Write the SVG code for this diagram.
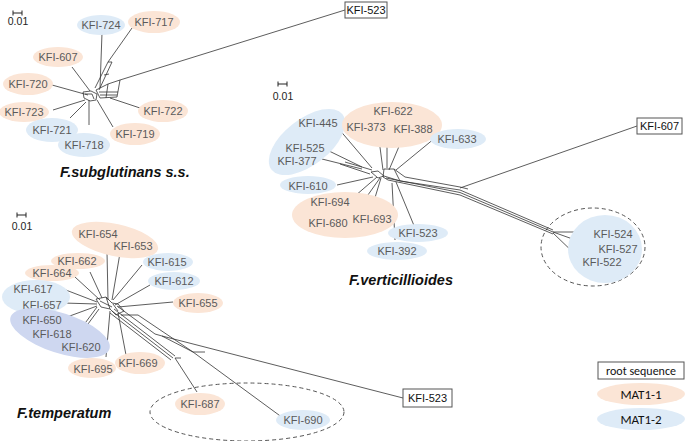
<svg xmlns="http://www.w3.org/2000/svg" width="685" height="441" viewBox="0 0 685 441">
<style>
.m1{fill:#FBE5D6}
.m2{fill:#DEEBF7}
.m3{fill:#CED7F0}
.lbl{font-family:"Liberation Sans",Arial,sans-serif;font-size:11px;fill:#5a5a5a;text-anchor:middle;dominant-baseline:central}
.root{font-family:"Liberation Sans",Arial,sans-serif;font-size:11px;fill:#111;text-anchor:middle;dominant-baseline:central}
.box{fill:#fff;stroke:#555;stroke-width:1}
.e{stroke:#333;stroke-width:0.8;fill:none}
.sb{stroke:#222;stroke-width:1;fill:none}
.sbt{font-family:"Liberation Sans",Arial,sans-serif;font-size:10.5px;fill:#222;text-anchor:middle}
.ttl{font-family:"Liberation Sans",Arial,sans-serif;font-size:14.5px;font-weight:bold;font-style:italic;fill:#111}
.dash{fill:none;stroke:#555;stroke-width:1;stroke-dasharray:4 3}
.leg{font-family:Carlito,"Liberation Sans",Arial,sans-serif;fill:#111;text-anchor:middle;dominant-baseline:central}
</style>
<rect width="685" height="441" fill="#fff"/>

<!-- scale bars -->
<g id="scale-tl"><path class="sb" d="M13,13 H22 M13,10.5 V15.5 M22,10.5 V15.5"/><text class="sbt" x="18" y="25">0.01</text></g>
<g id="scale-tr"><path class="sb" d="M278,84 H287 M278,81.5 V86.5 M287,81.5 V86.5"/><text class="sbt" x="283" y="100">0.01</text></g>
<g id="scale-bl"><path class="sb" d="M17,215 H26 M17,212.5 V217.5 M26,212.5 V217.5"/><text class="sbt" x="22" y="230">0.01</text></g>

<!-- dashed group outlines -->
<g id="dashed-tr"><ellipse class="dash" cx="593" cy="247" rx="52" ry="39"/></g>
<g id="dashed-bl"><ellipse class="dash" cx="247" cy="412" rx="97" ry="29"/></g>

<!-- connectors -->
<g id="connectors">
 <!-- top-left network -->
 <path class="e" d="M120,80 L345,10"/>
 <path class="e" d="M96,90 L108,84 L120,80 L117,97 L100,98 Z M99,92 H118 M100,95 H117 M108,84 L106,98"/>
 <path class="e" d="M95,88 L108,62 L132,28 M99,90 L112,62 L108,62 M104,75 L109,74"/>
 <path class="e" d="M102,33 L100,88"/>
 <path class="e" d="M72,67 L90,91"/>
 <path class="e" d="M52,85 L88,95"/>
 <path class="e" d="M53,110 L85,100"/>
 <path class="e" d="M70,118 L86,102"/>
 <path class="e" d="M89,125 L89,100"/>
 <path class="e" d="M113,127 L97,100"/>
 <path class="e" d="M140,108 L110,98"/>
 <path class="e" d="M83,92 L91,91 L97,94 L96,100 L90,101 L84,98 Z M85,94 L92,94 L94,99"/>

 <!-- top-right network -->
 <path class="e" d="M460,188 L637,126"/>
 <path class="e" d="M384,169 L394,169 L405,177 L460,187 L468,189"/>
 <path class="e" d="M384,176 L400,181 L460,190 L553,230 M386,178 L460,192.5 L553,232 M388,180 L460,195 L553,234 M384,169 L383,177 L388,180 M394,169 L400,181"/>
 <path class="e" d="M553,232 L592,232 M553,232 L595,247 M553,233 L578,257"/>
 <path class="e" d="M338,128 L372,168"/>
 <path class="e" d="M327,150 L362,167"/>
 <path class="e" d="M322,159 L362,169 M340,164 L370,174 M345,162 L372,170"/>
 <path class="e" d="M378,132 L383,170"/>
 <path class="e" d="M387,117 L387,168"/>
 <path class="e" d="M403,137 L389,170"/>
 <path class="e" d="M435,138 L396,170"/>
 <path class="e" d="M337,185 L373,177"/>
 <path class="e" d="M348,202 L377,177"/>
 <path class="e" d="M348,223 L380,178"/>
 <path class="e" d="M370,214 L381,178"/>
 <path class="e" d="M395,240 L392,183"/>
 <path class="e" d="M415,228 L396,182"/>
 <path class="e" d="M371,172 L378,171 L384,176 L378,178 Z"/>

 <!-- bottom-left network -->
 <path class="e" d="M117,306 L155,334 L162,336 L403,398"/>
 <path class="e" d="M121,315 H138 L193,352 L283,418 M193,352 H205 M162,336 L193,352"/>
 <path class="e" d="M110,313 L171,360 M112,311 L173,358 M114,309 L175,356 M175,358 L197,392 M175,358 H181"/>
 <path class="e" d="M107,252 L108,300"/>
 <path class="e" d="M120,253 L112,300"/>
 <path class="e" d="M90,272 L102,298"/>
 <path class="e" d="M75,277 L100,300"/>
 <path class="e" d="M142,265 L113,300"/>
 <path class="e" d="M150,285 L115,305"/>
 <path class="e" d="M173,302 L118,307"/>
 <path class="e" d="M58,287 L97,302"/>
 <path class="e" d="M63,303 L97,304"/>
 <path class="e" d="M67,317 L97,306"/>
 <path class="e" d="M80,330 L97,307"/>
 <path class="e" d="M88,324 L99,309"/>
 <path class="e" d="M106,357 L110,311"/>
 <path class="e" d="M126,355 L118,313"/>
 <path class="e" d="M96,299 L106,297 L112,303 L118,304 L124,311 L116,315 L110,309 L101,307 Z M100,301 L112,307 M106,297 L110,309 M113,304 L118,311"/>
</g>

<!-- top-left nodes -->
<g id="n-724"><ellipse class="m2" cx="101" cy="25" rx="24" ry="10"/><text class="lbl" x="101" y="25">KFI-724</text></g>
<g id="n-717"><ellipse class="m1" cx="154" cy="22" rx="26" ry="11"/><text class="lbl" x="154" y="22">KFI-717</text></g>
<g id="n-607a"><ellipse class="m1" cx="58" cy="57" rx="25" ry="10"/><text class="lbl" x="58" y="57">KFI-607</text></g>
<g id="n-720"><ellipse class="m1" cx="28" cy="84" rx="25" ry="11"/><text class="lbl" x="28" y="84">KFI-720</text></g>
<g id="n-723"><ellipse class="m1" cx="24" cy="112" rx="25" ry="10"/><text class="lbl" x="24" y="112">KFI-723</text></g>
<g id="n-721"><ellipse class="m2" cx="52" cy="130" rx="26" ry="12"/><text class="lbl" x="52" y="130">KFI-721</text></g>
<g id="n-718"><ellipse class="m2" cx="84" cy="145" rx="26" ry="12"/><text class="lbl" x="84" y="145">KFI-718</text></g>
<g id="n-719"><ellipse class="m1" cx="135" cy="134" rx="25" ry="11"/><text class="lbl" x="135" y="134">KFI-719</text></g>
<g id="n-722"><ellipse class="m1" cx="163" cy="111" rx="25" ry="11"/><text class="lbl" x="163" y="111">KFI-722</text></g>
<g id="root-tl"><rect class="box" x="345" y="2" width="42" height="16"/><text class="root" x="366" y="10">KFI-523</text></g>
<g id="title-tl"><text class="ttl" x="60" y="177">F.subglutinans s.s.</text></g>

<!-- top-right nodes -->
<g id="g-445"><ellipse class="m2" cx="307" cy="142" rx="45" ry="23" transform="rotate(-38 307 142)"/>
 <text class="lbl" x="318" y="123">KFI-445</text><text class="lbl" x="305" y="148">KFI-525</text><text class="lbl" x="297" y="161">KFI-377</text></g>
<g id="g-622"><ellipse class="m1" cx="392" cy="125" rx="50" ry="23"/>
 <text class="lbl" x="393" y="111">KFI-622</text><text class="lbl" x="366" y="127">KFI-373</text><text class="lbl" x="413" y="129">KFI-388</text></g>
<g id="n-633"><ellipse class="m2" cx="458" cy="139" rx="28" ry="10"/><text class="lbl" x="457" y="139">KFI-633</text></g>
<g id="n-610"><ellipse class="m2" cx="308" cy="185" rx="28" ry="9"/><text class="lbl" x="308" y="186">KFI-610</text></g>
<g id="g-694"><ellipse class="m1" cx="345" cy="215" rx="53" ry="23"/>
 <text class="lbl" x="330" y="202">KFI-694</text><text class="lbl" x="328" y="223">KFI-680</text><text class="lbl" x="372" y="219">KFI-693</text></g>
<g id="n-523b"><ellipse class="m2" cx="418" cy="233" rx="30" ry="9"/><text class="lbl" x="418" y="233">KFI-523</text></g>
<g id="n-392"><ellipse class="m2" cx="397" cy="251" rx="30" ry="9"/><text class="lbl" x="397" y="251">KFI-392</text></g>
<g id="g-524"><ellipse class="m2" cx="605" cy="249" rx="37" ry="34"/>
 <text class="lbl" x="613" y="234">KFI-524</text><text class="lbl" x="618" y="249">KFI-527</text><text class="lbl" x="602" y="262">KFI-522</text></g>
<g id="root-tr"><rect class="box" x="637" y="118" width="45" height="16"/><text class="root" x="659.5" y="126">KFI-607</text></g>
<g id="title-tr"><text class="ttl" x="349" y="285">F.verticillioides</text></g>

<!-- bottom-left nodes -->
<g id="g-654"><ellipse class="m1" cx="115" cy="240" rx="44" ry="16" transform="rotate(12 115 240)"/>
 <text class="lbl" x="98" y="234">KFI-654</text><text class="lbl" x="133" y="246">KFI-653</text></g>
<g id="n-662"><ellipse class="m1" cx="78" cy="261" rx="27" ry="8"/><text class="lbl" x="77" y="261">KFI-662</text></g>
<g id="n-664"><ellipse class="m1" cx="52" cy="273" rx="27" ry="8"/><text class="lbl" x="52" y="273">KFI-664</text></g>
<g id="n-615"><ellipse class="m2" cx="168" cy="262" rx="25" ry="9"/><text class="lbl" x="167" y="262">KFI-615</text></g>
<g id="n-612"><ellipse class="m2" cx="174" cy="281" rx="26" ry="9"/><text class="lbl" x="174" y="281">KFI-612</text></g>
<g id="n-655"><ellipse class="m1" cx="198" cy="303" rx="25" ry="10"/><text class="lbl" x="198" y="303">KFI-655</text></g>
<g id="g-617"><ellipse class="m2" cx="36" cy="297" rx="34" ry="17"/>
 <text class="lbl" x="33" y="289">KFI-617</text><text class="lbl" x="42" y="305">KFI-657</text></g>
<g id="g-650"><ellipse class="m3" cx="60" cy="333" rx="52" ry="20" transform="rotate(18 60 333)"/>
 <text class="lbl" x="42" y="320">KFI-650</text><text class="lbl" x="52" y="334">KFI-618</text><text class="lbl" x="81" y="347">KFI-620</text></g>
<g id="n-695"><ellipse class="m1" cx="92" cy="368" rx="24" ry="10"/><text class="lbl" x="93" y="369">KFI-695</text></g>
<g id="n-669"><ellipse class="m1" cx="140" cy="363" rx="25" ry="11"/><text class="lbl" x="138" y="363">KFI-669</text></g>
<g id="n-687"><ellipse class="m1" cx="200" cy="404" rx="25" ry="11"/><text class="lbl" x="200" y="404">KFI-687</text></g>
<g id="n-690"><ellipse class="m2" cx="303" cy="420" rx="27" ry="10"/><text class="lbl" x="303" y="420">KFI-690</text></g>
<g id="root-bl"><rect class="box" x="403" y="389" width="49" height="18"/><text class="root" x="427.5" y="398">KFI-523</text></g>
<g id="title-bl"><text class="ttl" x="17" y="418">F.temperatum</text></g>

<!-- legend -->
<g id="legend-root"><rect class="box" x="598" y="362" width="86" height="17"/><text class="leg" x="641" y="370.5" font-size="12">root sequence</text></g>
<g id="legend-mat11"><ellipse class="m1" cx="641" cy="394" rx="44" ry="11"/><text class="leg" x="641" y="394" font-size="13">MAT1-1</text></g>
<g id="legend-mat12"><ellipse class="m2" cx="641" cy="419" rx="44" ry="11"/><text class="leg" x="641" y="419" font-size="13">MAT1-2</text></g>
</svg>
